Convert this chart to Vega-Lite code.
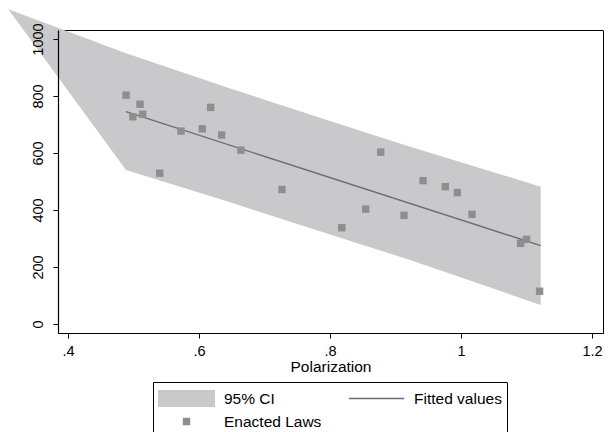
{
  "$schema": "https://vega.github.io/schema/vega-lite/v6.json",
  "width": 545,
  "height": 303,
  "autosize": {"type": "none"},
  "padding": {"left": 58, "top": 30, "right": 5, "bottom": 99},
  "background": "white",
  "datasets": {
    "band": [
      {"x": 0.3089, "lower": 1104, "upper": 1104},
      {"x": 0.4886, "lower": 540, "upper": 950},
      {"x": 0.65, "lower": 425, "upper": 825},
      {"x": 0.80, "lower": 314, "upper": 712},
      {"x": 0.92, "lower": 226, "upper": 624},
      {"x": 1.1217, "lower": 67, "upper": 482}
    ],
    "fit": [
      {"x": 0.4886, "y": 745},
      {"x": 1.1217, "y": 275}
    ],
    "laws": [
      {"polarization": 0.4886, "laws": 803, "series": "Enacted Laws"},
      {"polarization": 0.510, "laws": 771, "series": "Enacted Laws"},
      {"polarization": 0.499, "laws": 727, "series": "Enacted Laws"},
      {"polarization": 0.514, "laws": 736, "series": "Enacted Laws"},
      {"polarization": 0.5725, "laws": 677, "series": "Enacted Laws"},
      {"polarization": 0.540, "laws": 529, "series": "Enacted Laws"},
      {"polarization": 0.6178, "laws": 760, "series": "Enacted Laws"},
      {"polarization": 0.605, "laws": 685, "series": "Enacted Laws"},
      {"polarization": 0.6346, "laws": 663, "series": "Enacted Laws"},
      {"polarization": 0.664, "laws": 610, "series": "Enacted Laws"},
      {"polarization": 0.7267, "laws": 472, "series": "Enacted Laws"},
      {"polarization": 0.818, "laws": 338, "series": "Enacted Laws"},
      {"polarization": 0.8545, "laws": 403, "series": "Enacted Laws"},
      {"polarization": 0.8774, "laws": 603, "series": "Enacted Laws"},
      {"polarization": 0.913, "laws": 381, "series": "Enacted Laws"},
      {"polarization": 0.942, "laws": 503, "series": "Enacted Laws"},
      {"polarization": 0.976, "laws": 482, "series": "Enacted Laws"},
      {"polarization": 0.9944, "laws": 461, "series": "Enacted Laws"},
      {"polarization": 1.0168, "laws": 385, "series": "Enacted Laws"},
      {"polarization": 1.091, "laws": 283, "series": "Enacted Laws"},
      {"polarization": 1.100, "laws": 297, "series": "Enacted Laws"},
      {"polarization": 1.120, "laws": 115, "series": "Enacted Laws"}
    ]
  },
  "layer": [
    {
      "data": {"name": "band"},
      "mark": {"type": "area", "color": "#c9c9cb", "opacity": 1, "interpolate": "linear"},
      "encoding": {
        "x": {
          "field": "x", "type": "quantitative", "title": "Polarization",
          "scale": {"domain": [0.38473, 1.2168], "nice": false, "zero": false},
          "axis": {
            "values": [0.4, 0.6, 0.8, 1, 1.2],
            "labelExpr": "datum.value < 1 ? substring(format(datum.value, '.1f'), 1) : format(datum.value, '~g')",
            "labelPadding": 6, "titlePadding": 2, "labelFlush": false, "zindex": 1, "domain": true
          }
        },
        "y": {
          "field": "upper", "type": "quantitative", "title": null,
          "scale": {"domain": [-31.6, 1031.6], "nice": false, "zero": false},
          "axis": {
            "values": [0, 200, 400, 600, 800, 1000], "format": "d",
            "labelAngle": -90, "labelAlign": "center", "labelBaseline": "alphabetic", "labelPadding": 11,
            "zindex": 1, "domain": true, "domainColor": "#000000", "domainWidth": 1.2
          }
        },
        "y2": {"field": "lower"}
      }
    },
    {
      "data": {"name": "fit"},
      "mark": {"type": "line", "color": "#6b6b6b", "strokeWidth": 1.3},
      "encoding": {
        "x": {"field": "x", "type": "quantitative"},
        "y": {"field": "y", "type": "quantitative"}
      }
    },
    {
      "data": {"name": "laws"},
      "mark": {"type": "point", "filled": true, "opacity": 1, "size": 3249, "strokeWidth": 0},
      "encoding": {
        "x": {"field": "polarization", "type": "quantitative"},
        "y": {"field": "laws", "type": "quantitative"},
        "color": {
          "field": "series", "type": "nominal",
          "scale": {"domain": ["95% CI", "Enacted Laws", "Fitted values"], "range": ["#c9c9cb", "#8e8e8e", "#6b6b6b"]},
          "legend": {
            "title": null, "orient": "none", "legendX": 95, "legendY": 352,
            "values": ["95% CI", "Enacted Laws", "Fitted values"],
            "columns": 2, "symbolSize": 3249, "clipHeight": 23,
            "labelFont": "Liberation Sans", "labelFontSize": 15.5, "labelColor": "#000000",
            "labelOffset": 9, "columnPadding": 26, "rowPadding": 0, "padding": 5,
            "strokeColor": "#000000", "symbolStrokeWidth": 0, "symbolOpacity": 1
          }
        },
        "shape": {
          "field": "series", "type": "nominal",
          "scale": {"domain": ["95% CI", "Enacted Laws", "Fitted values"], "range": ["M-1,-0.3H1V0.3H-1Z", "M-0.13,-0.13H0.13V0.13H-0.13Z", "M-0.97,-0.025H0.97V0.025H-0.97Z"]}
        }
      }
    }
  ],
  "config": {
    "view": {"stroke": "#000000", "strokeWidth": 1},
    "axis": {
      "grid": false, "domainColor": "#000000", "domainWidth": 1,
      "tickColor": "#000000", "tickSize": 5, "tickWidth": 1,
      "labelFont": "Liberation Sans", "labelFontSize": 14.5, "labelColor": "#000000",
      "titleFont": "Liberation Sans", "titleFontSize": 15.5, "titleFontWeight": "normal", "titleColor": "#000000"
    }
  }
}
